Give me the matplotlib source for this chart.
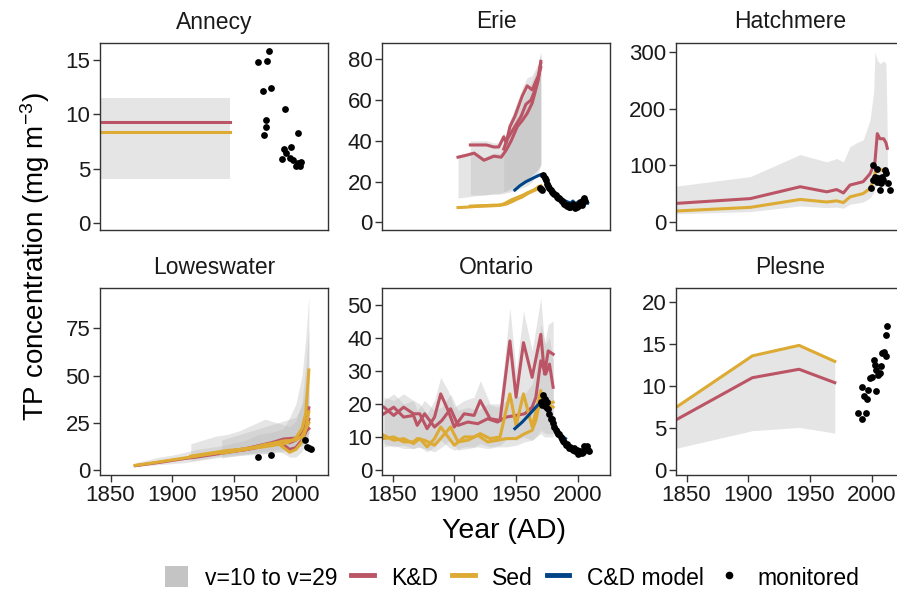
import numpy as np
import matplotlib
matplotlib.use("Agg")
import matplotlib.pyplot as plt
from matplotlib.patches import Patch
from matplotlib.lines import Line2D

plt.rcParams['font.family'] = ['Liberation Sans', 'DejaVu Sans']
plt.rcParams['mathtext.fontset'] = 'custom'
plt.rcParams['mathtext.rm'] = 'Liberation Sans'
plt.rcParams['mathtext.it'] = 'Liberation Sans:italic'

RED = '#BB5566'
YEL = '#DDAA33'
BLUE = '#004488'
BAND = '#BEBEBE'

# ---------------- data ----------------
# Annecy
ann_band_yr = [1841.5, 1946.7]
ann_band_lo = [4.0, 4.0]
ann_band_hi = [11.5, 11.5]
ann_kd = [9.3, 9.3]
ann_sed = [8.35, 8.35]
ann_mon_yr = [1978, 1969.5, 1977, 1973, 1979.5, 1991, 1976, 1975.5, 1974.5, 2002,
              1990, 1996, 1992, 1989, 1995, 1997.5, 2001.5, 2004, 2000.5, 2003]
ann_mon = [15.9, 14.8, 14.9, 12.2, 12.4, 10.5, 9.5, 8.8, 8.1, 8.3,
           6.8, 7.0, 6.4, 5.9, 6.0, 5.8, 5.5, 5.6, 5.2, 5.2]

# Erie (three cores)
erie_yr1 = [1903, 1910, 1916, 1924, 1932, 1938, 1942, 1946, 1951, 1955, 1959, 1963, 1965, 1968, 1970]
erie_kd1 = [32, 33, 34, 30.5, 32.5, 32, 35.5, 40, 47, 50, 53.5, 58.5, 63, 70, 79]
erie_sed1 = [7.3, 7.5, 7.8, 8, 8.2, 8.5, 9, 10, 11.5, 12.5, 14, 15.5, 16, 17.5, 18]
erie_lo1 = [12, 12.5, 13, 13.5, 14, 14, 14.5, 15, 16, 17, 18, 20, 22, 25, 28]
erie_hi1 = [33, 34, 35, 32, 34, 34, 38, 43, 50, 53, 57, 62, 67, 74, 83]
erie_yr2 = [1913, 1920, 1926, 1932, 1936, 1940, 1942, 1945, 1949, 1955, 1959, 1963, 1968, 1970]
erie_kd2 = [38, 38, 38, 37, 37, 42, 39, 47, 52, 62, 67, 65, 72, 78]
erie_sed2 = [8, 8.2, 8.3, 8.5, 8.5, 9, 9.5, 10.5, 11.5, 13, 14.5, 15.5, 17, 17.5]
erie_lo2 = [13.5, 13.5, 13.5, 14, 14, 15, 15, 16, 17, 19, 21, 23, 26, 29]
erie_hi2 = [40, 40, 40, 39, 39, 44, 42, 50, 56, 66, 71, 72, 78, 84]
erie_yr3 = [1940, 1943, 1946, 1950, 1954, 1958, 1962, 1966, 1970]
erie_kd3 = [36, 41, 44, 48, 52, 58, 60, 66, 76]
erie_sed3 = [9, 10, 11, 12, 13, 14, 15, 16, 17]
erie_lo3 = [15, 16, 17, 18, 19, 21, 23, 25, 28]
erie_hi3 = [40, 45, 49, 53, 58, 64, 68, 74, 82]
erie_cd_yr = [1949, 1953, 1958, 1963, 1967, 1970, 1972, 1974, 1976, 1978, 1980, 1982, 1984,
              1986, 1988, 1990, 1992, 1994, 1996, 1998, 2000, 2002, 2004, 2006, 2008]
erie_cd = [15.9, 18, 20, 21.5, 22.7, 23.5, 22.5, 21, 19, 17, 15.5, 14, 13,
           12, 11, 10.5, 10, 9.5, 10.5, 9, 10, 9.5, 11, 10, 9.5]
erie_mon_yr = [1969, 1970, 1971, 1972, 1973, 1974, 1975, 1976, 1977, 1978, 1979, 1980, 1981,
               1982, 1983, 1984, 1985, 1986, 1987, 1988, 1989, 1990, 1991, 1992, 1993, 1994,
               1995, 1996, 1997, 1998, 1999, 2000, 2001, 2002, 2003, 2004, 2005, 2006]
erie_mon = [16.8, 16.3, 16, 23.3, 22, 20.8, 19, 18, 16.8, 16, 15, 14.5, 14,
            13.5, 12.5, 12, 11.9, 11, 10.5, 10.2, 9, 8.6, 8, 8.5, 7.8, 7.5,
            8, 9.1, 8.5, 7, 7.5, 8, 9.1, 10, 8.5, 11, 11.9, 10.5]

# Hatchmere
hat_yr = [1841.5, 1901.7, 1942, 1963.5, 1971.5, 1977, 1982.3, 1987.7, 1993, 1998.5,
          2001.5, 2002.5, 2004.4, 2006.5, 2009.5, 2011.4, 2012.5]
hat_kd = [32.5, 41, 62, 53, 57, 51, 65, 68, 71, 85, 100, 106, 156, 147, 147, 140, 130]
hat_sed = [19, 25.5, 39.5, 35, 37, 34, 44, 47, 50, 59, 75, 86, 93, 93, 90, 88, 88]
hat_lo = [14, 18, 28, 25, 26, 24, 31, 33, 35, 42, 52, 60, 66, 66, 64, 62, 62]
hat_hi = [63, 80, 119, 106, 112, 106, 133, 140, 145, 180, 230, 301, 286, 280, 285, 280, 150]
hat_mon_yr = [2001, 2003.8, 2002.4, 2001, 1999.7, 2006.4, 2003.8, 2007.8, 2009.1, 2011.8,
              2010.4, 2013.1, 2014.5, 2005.1, 2007]
hat_mon = [100, 94, 79.7, 73.8, 59, 56, 70.8, 79.7, 73.8, 85.6, 91.5, 68, 56, 76.8, 68]

# Loweswater
low_yr1 = [1870, 1880, 1890, 1900, 1910, 1920, 1930, 1940, 1950, 1960, 1970, 1980,
           1990, 1995, 2000, 2005, 2008, 2010.5]
low_sed1 = [2.6, 3.5, 4.5, 5.5, 6.5, 7.5, 8.5, 9.5, 10.5, 11.5, 12, 13, 14, 15, 17, 22, 30, 53]
low_kd1 = [2.4, 3.3, 4.2, 5.2, 6.2, 7.0, 8.0, 9.0, 10, 11, 12.5, 14, 15, 14.5, 16, 19, 24, 33]
low_lo1 = [2, 2.5, 3, 3.5, 4, 5, 6, 7, 7.5, 8, 8.5, 9, 10, 11, 12, 14, 16, 20]
low_hi1 = [4, 5.5, 7, 8, 9.5, 11, 12, 13, 14.5, 16, 19, 20, 22, 28, 35, 50, 70, 92]
low_yr2 = [1915, 1925, 1935, 1945, 1955, 1965, 1975, 1985, 1990, 1995, 2000, 2005, 2008, 2010.5]
low_sed2 = [7.5, 8.5, 9.5, 10.5, 11, 12, 13.5, 14.5, 12, 9.5, 11, 15, 22, 31]
low_kd2 = [7, 8, 9, 10, 10.5, 11.5, 13, 15, 13.5, 11, 12, 16, 20, 27]
low_lo2 = [5, 6, 7, 8, 8.5, 9, 9, 10, 9, 7, 7, 10, 14, 20]
low_hi2 = [14, 16, 18, 19, 21, 24, 27, 25, 24, 23, 26, 36, 55, 75]
low_yr3 = [1940, 1950, 1960, 1970, 1980, 1990, 2000, 2005, 2010.5]
low_sed3 = [9, 10, 11, 12.5, 14, 15.5, 16, 18, 25]
low_kd3 = [9.5, 10.5, 11.5, 13, 14.5, 16.5, 17, 19, 22]
low_lo3 = [6.5, 7.5, 8.5, 9.5, 10.5, 11.5, 12, 13, 16]
low_hi3 = [16, 18, 20, 22, 24, 26, 28, 34, 50]
low_mon_yr = [1969.6, 1979.6, 2007.4, 2008.7, 2010.6, 2012.2]
low_mon = [7.1, 8.0, 16.0, 12.5, 12.0, 11.2]

# Ontario (two cores)
ont_yr_a = [1843, 1851, 1859, 1867, 1872, 1878, 1884, 1889, 1895, 1900, 1908, 1916, 1921,
            1929, 1937, 1945, 1950, 1956, 1963, 1970, 1973, 1976, 1980]
ont_kd_a = [19, 16.5, 19, 17, 17, 12.5, 16, 23, 18, 13, 17, 16.5, 21,
            15.5, 15, 39, 22, 38.5, 28, 41, 29, 36, 35]
ont_sed_a = [10.5, 9, 9.5, 8, 9.5, 7, 9.5, 13, 10, 7.5, 10, 10, 11,
             9.5, 10, 23, 13.5, 23, 13, 24, 19, 20, 20.5]
ont_lo_a = [8, 7, 7.5, 6.5, 7, 5.5, 7, 9, 7, 6, 7, 7, 8,
            7, 7.5, 10, 9, 10, 9, 11, 10, 10, 10]
ont_hi_a = [22, 21, 23, 21, 20, 17, 21, 28, 24, 19, 21, 22, 27,
            20, 20, 49, 30, 48, 36, 52, 38, 44, 45]
ont_yr_b = [1843, 1851, 1859, 1867, 1870, 1876, 1884, 1890, 1897, 1903, 1911, 1919, 1927,
            1935, 1942, 1950, 1957, 1963, 1966, 1970, 1974, 1977, 1980]
ont_kd_b = [17, 19, 16, 16.5, 13.5, 17, 13, 15, 18.5, 13.5, 14.5, 14, 15.5,
            14.5, 16, 16.5, 17, 19, 22, 33, 29, 32, 25]
ont_sed_b = [9.5, 10, 8.5, 8.5, 9.5, 9, 7.5, 10, 13, 8.5, 9, 10.5, 8.5,
             9, 9.5, 9.5, 11, 12, 15, 22, 19, 19.5, 19]
ont_lo_b = [7, 7.5, 6.5, 6.5, 7, 6.5, 5.5, 7, 9, 6, 6.5, 7, 6.5,
            7, 7, 7.5, 8.5, 9, 10, 12, 11, 11, 11]
ont_hi_b = [21, 23, 20, 21, 18, 21, 18, 19, 23, 18, 19, 18, 20,
            19, 21, 22, 23, 26, 30, 44, 38, 40, 33]
ont_cd_yr = [1949, 1955, 1960, 1966, 1970, 1972, 1974, 1976, 1978, 1980, 1982, 1984, 1986, 1988, 1990]
ont_cd = [12.5, 14.5, 16.5, 19, 20.5, 21.5, 20, 18.5, 16, 14.5, 13, 11.5, 10.5, 10, 9.5]
ont_mon_yr = [1970, 1971, 1972, 1973, 1974, 1975, 1976, 1977, 1978, 1979, 1980, 1981, 1982,
              1983, 1984, 1985, 1986, 1987, 1988, 1989, 1990, 1991, 1992, 1993, 1994, 1995,
              1996, 1997, 1998, 1999, 2000, 2001, 2002, 2003, 2004, 2005, 2006, 2007, 2008, 2009]
ont_mon = [20.5, 19.5, 22.7, 21.5, 19, 20.5, 18.4, 16.9, 15.5, 15.4, 14.3, 13, 12,
           11.5, 10.8, 10.8, 10, 9.5, 8.8, 8.5, 7.6, 8, 7.2, 6.8, 7, 6.5,
           6.2, 6.8, 5.7, 6, 4.7, 5.2, 5.9, 5, 5.5, 7.3, 6.5, 7.3, 6.2, 5.7]

# Plesne
ple_yr = [1840, 1903.3, 1941.1, 1970]
ple_sed = [7.3, 13.56, 14.8, 12.9]
ple_kd = [5.85, 10.97, 11.97, 10.38]
ple_lo = [2.55, 4.69, 5.08, 4.41]
ple_mon_yr = [1989, 1991.7, 1994.9, 1992.2, 1993.8, 1995.7, 1997, 1998.4, 2000.5, 2001.9,
              2002.9, 2003.7, 2005.1, 2003.2, 2006.4, 2007.3, 2008.6, 2009.9, 2011.8, 2011.3, 2012.4]
ple_mon = [6.8, 6.1, 6.8, 9.9, 8.8, 8.4, 9.5, 10.9, 11.0, 13.1,
           12.5, 11.9, 11.3, 9.4, 11.5, 12.3, 13.9, 14.0, 13.6, 16.0, 17.1]

# ---------------- figure ----------------
W, H = 897, 591
fig = plt.figure(figsize=(W / 100, H / 100), dpi=100)

PW, PH = 228, 187
lefts = [100, 382, 676]
tops = [43, 288]


def make_ax(col, row):
    return fig.add_axes([lefts[col] / W, 1 - (tops[row] + PH) / H, PW / W, PH / H])


def style(ax, title, ylim, yticks, bottom):
    ax.set_xlim(1841.5, 2026)
    ax.set_ylim(*ylim)
    ax.set_yticks(yticks)
    ax.set_xticks([1850, 1900, 1950, 2000])
    for s in ax.spines.values():
        s.set_color('#333333')
        s.set_linewidth(1.0)
    ax.tick_params(colors='#333333', labelcolor='#1a1a1a', labelsize=16,
                   length=5, width=1.0, pad=2)
    if not bottom:
        ax.tick_params(axis='x', bottom=False, labelbottom=False)
    ax.text(0.5, 1 + 21 / PH, title, transform=ax.transAxes, ha='center',
            va='center', fontsize=16.5, color='#1a1a1a')


def band(ax, x, lo, hi):
    ax.fill_between(x, lo, hi, color=BAND, alpha=0.4, lw=0)


def line(ax, x, y, c):
    ax.plot(x, y, color=c, lw=2.2, solid_joinstyle='round')


def dots(ax, x, y):
    ax.scatter(x, y, s=24, color='black', zorder=5, lw=0)


# Annecy
ax = make_ax(0, 0)
band(ax, ann_band_yr, ann_band_lo, ann_band_hi)
line(ax, ann_band_yr, ann_kd, RED)
line(ax, ann_band_yr, ann_sed, YEL)
dots(ax, ann_mon_yr, ann_mon)
style(ax, 'Annecy', (-0.67, 16.6), [0, 5, 10, 15], False)

# Erie
ax = make_ax(1, 0)
band(ax, erie_yr1, erie_lo1, erie_hi1)
band(ax, erie_yr2, erie_lo2, erie_hi2)
band(ax, erie_yr3, erie_lo3, erie_hi3)
for x, y in [(erie_yr1, erie_kd1), (erie_yr2, erie_kd2), (erie_yr3, erie_kd3)]:
    line(ax, x, y, RED)
for x, y in [(erie_yr1, erie_sed1), (erie_yr2, erie_sed2), (erie_yr3, erie_sed3)]:
    line(ax, x, y, YEL)
line(ax, erie_cd_yr, erie_cd, BLUE)
dots(ax, erie_mon_yr, erie_mon)
style(ax, 'Erie', (-3.7, 88), [0, 20, 40, 60, 80], False)

# Hatchmere
ax = make_ax(2, 0)
band(ax, hat_yr, hat_lo, hat_hi)
line(ax, hat_yr, hat_kd, RED)
line(ax, hat_yr, hat_sed, YEL)
dots(ax, hat_mon_yr, hat_mon)
style(ax, 'Hatchmere', (-14.6, 316.5), [0, 100, 200, 300], False)

# Loweswater
ax = make_ax(0, 1)
band(ax, low_yr1, low_lo1, low_hi1)
band(ax, low_yr2, low_lo2, low_hi2)
band(ax, low_yr3, low_lo3, low_hi3)
for x, y in [(low_yr1, low_kd1), (low_yr2, low_kd2), (low_yr3, low_kd3)]:
    line(ax, x, y, RED)
for x, y in [(low_yr1, low_sed1), (low_yr2, low_sed2), (low_yr3, low_sed3)]:
    line(ax, x, y, YEL)
dots(ax, low_mon_yr, low_mon)
style(ax, 'Loweswater', (-2.5, 96.3), [0, 25, 50, 75], True)

# Ontario
ax = make_ax(1, 1)
band(ax, ont_yr_a, ont_lo_a, ont_hi_a)
band(ax, ont_yr_b, ont_lo_b, ont_hi_b)
line(ax, ont_yr_a, ont_kd_a, RED)
line(ax, ont_yr_b, ont_kd_b, RED)
line(ax, ont_yr_a, ont_sed_a, YEL)
line(ax, ont_yr_b, ont_sed_b, YEL)
line(ax, ont_cd_yr, ont_cd, BLUE)
dots(ax, ont_mon_yr, ont_mon)
style(ax, 'Ontario', (-1.5, 55), [0, 10, 20, 30, 40, 50], True)

# Plesne
ax = make_ax(2, 1)
band(ax, ple_yr, ple_lo, ple_sed)
line(ax, ple_yr, ple_kd, RED)
line(ax, ple_yr, ple_sed, YEL)
dots(ax, ple_mon_yr, ple_mon)
style(ax, 'Plesne', (-0.56, 21.6), [0, 5, 10, 15, 20], True)

fig.text(35 / W, 1 - 257 / H, r'TP concentration (mg m$^{-3}$)', rotation=90,
         ha='center', va='center', fontsize=20, color='black')
fig.text(504 / W, 1 - 531 / H, 'Year (AD)', ha='center', va='center',
         fontsize=20.5, color='black')

handles = [Patch(facecolor='#C4C4C4', edgecolor='none'),
           Line2D([], [], color=RED, lw=3.5),
           Line2D([], [], color=YEL, lw=3.5),
           Line2D([], [], color=BLUE, lw=3.5),
           Line2D([], [], color='black', marker='o', ms=4.5, lw=0)]
labels = ['v=10 to v=29', 'K&D', 'Sed', 'C&D model', 'monitored']
fig.legend(handles, labels, loc='center', bbox_to_anchor=(512 / W, 1 - 578 / H),
           ncol=5, frameon=False, fontsize=16.5, handlelength=1.0, handleheight=1.0,
           handletextpad=0.75, columnspacing=0.6, borderaxespad=0, borderpad=0)

fig.savefig('out.png', dpi=100)
